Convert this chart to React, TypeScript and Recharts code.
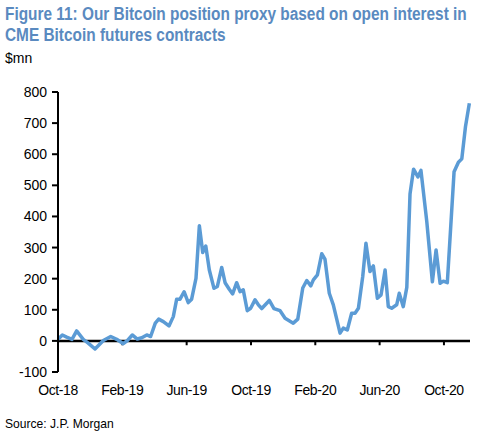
import React from 'react';
import { LineChart, Line, XAxis, YAxis, ReferenceLine } from 'recharts';

// months elapsed since the start of Oct-2018
const months = [
  0, 0.27, 0.54, 0.87, 1.16, 1.57, 1.88, 2.3, 2.82, 3.28, 3.65, 4.06, 4.31, 4.62, 4.93, 5.21,
  5.52, 5.76, 6.05, 6.26, 6.55, 6.9, 7.17, 7.38, 7.59, 7.84, 8.1, 8.31, 8.58, 8.79, 9.0, 9.19,
  9.41, 9.7, 9.91, 10.18, 10.39, 10.65, 10.86, 11.11, 11.32, 11.52, 11.77, 11.98, 12.25, 12.46,
  12.67, 13.14, 13.43, 13.81, 14.12, 14.63, 14.91, 15.22, 15.47, 15.72, 15.88, 16.13, 16.4,
  16.6, 16.87, 17.12, 17.54, 17.74, 17.99, 18.26, 18.47, 18.68, 18.95, 19.15, 19.4, 19.61,
  19.86, 20.09, 20.34, 20.54, 20.75, 21.06, 21.22, 21.47, 21.69, 21.89, 22.11, 22.38, 22.57,
  22.93, 23.28, 23.51, 23.76, 23.96, 24.21, 24.63, 24.9, 25.11, 25.34, 25.58,
];

// Bitcoin position proxy, $mn
const positionUsdMn = [
  5, 19, 12, 5, 32, 5, -7, -26, 1, 14, 5, -9, 1, 19, 6, 10,
  19, 14, 57, 70, 62, 48, 78, 134, 134, 158, 123, 134, 201, 370, 284, 305,
  228, 169, 175, 236, 187, 166, 151, 187, 158, 164, 97, 105, 132, 116,
  104, 130, 104, 97, 73, 57, 70, 170, 194, 177, 196, 212, 280,
  263, 153, 116, 25, 41, 35, 89, 89, 105, 207, 314, 223, 241,
  137, 148, 228, 110, 105, 116, 153, 110, 172, 472, 552, 527, 548,
  385, 190, 292, 185, 192, 187, 544, 574, 585, 689, 764,
];

const tickMonths = [0, 4, 8, 12, 16, 20, 24];
const tickLabels = ['Oct-18', 'Feb-19', 'Jun-19', 'Oct-19', 'Feb-20', 'Jun-20', 'Oct-20'];
const yTicks = [-100, 0, 100, 200, 300, 400, 500, 600, 700, 800];

const data = months.map((m, i) => ({ m, v: positionUsdMn[i] }));

const FONT = '"Liberation Sans", Arial, sans-serif';

export default function App() {
  return (
    <div
      style={{
        position: 'absolute',
        left: 0,
        top: 0,
        width: 481,
        height: 439,
        background: '#fff',
        fontFamily: FONT,
        overflow: 'hidden',
      }}
    >
      <div
        style={{
          position: 'absolute',
          left: 5,
          top: 4,
          width: 560,
          whiteSpace: 'nowrap',
          color: '#5A8AC0',
          fontWeight: 'bold',
          fontSize: 18,
          lineHeight: '21px',
          transform: 'scaleX(0.855)',
          transformOrigin: '0 0',
        }}
      >
        Figure 11: Our Bitcoin position proxy based on open interest in
        <br />
        CME Bitcoin futures contracts
      </div>
      <div style={{ position: 'absolute', left: 5, top: 50, fontSize: 14, color: '#000' }}>$mn</div>
      <div
        style={{
          position: 'absolute',
          left: 5,
          top: 416,
          fontSize: 13,
          color: '#000',
          whiteSpace: 'nowrap',
          transform: 'scaleX(0.93)',
          transformOrigin: '0 0',
        }}
      >
        Source: J.P. Morgan
      </div>
      <div style={{ position: 'absolute', left: 0, top: 0 }}>
        <LineChart
          width={481}
          height={439}
          data={data}
          margin={{ top: 92, right: 11, bottom: 37, left: 0 }}
        >
          <XAxis
            dataKey="m"
            type="number"
            domain={[0, 25.62]}
            ticks={tickMonths}
            tickFormatter={(v: number) => tickLabels[tickMonths.indexOf(v)] ?? ''}
            axisLine={false}
            tickLine={false}
            tickSize={0}
            tickMargin={13}
            height={30}
            interval={0}
            tick={{ fill: '#000', fontSize: 14, fontFamily: FONT, letterSpacing: -0.4 }}
          />
          <YAxis
            domain={[-100, 800]}
            ticks={yTicks}
            width={58}
            interval={0}
            axisLine={{ stroke: '#000', strokeWidth: 2 }}
            tickLine={{ stroke: '#000', strokeWidth: 2 }}
            tickSize={6}
            tickMargin={5}
            tick={{ fill: '#000', fontSize: 14, fontFamily: FONT }}
          />
          <ReferenceLine y={0} stroke="#000" strokeWidth={2.5} ifOverflow="extendDomain" />
          {tickMonths.map((t) => (
            <ReferenceLine
              key={t}
              segment={[
                { x: t, y: 0 },
                { x: t, y: -14 },
              ]}
              stroke="#000"
              strokeWidth={2}
            />
          ))}
          <Line
            type="linear"
            dataKey="v"
            stroke="#5B9BD5"
            strokeWidth={3.5}
            dot={false}
            isAnimationActive={false}
            strokeLinejoin="round"
          />
        </LineChart>
      </div>
    </div>
  );
}
